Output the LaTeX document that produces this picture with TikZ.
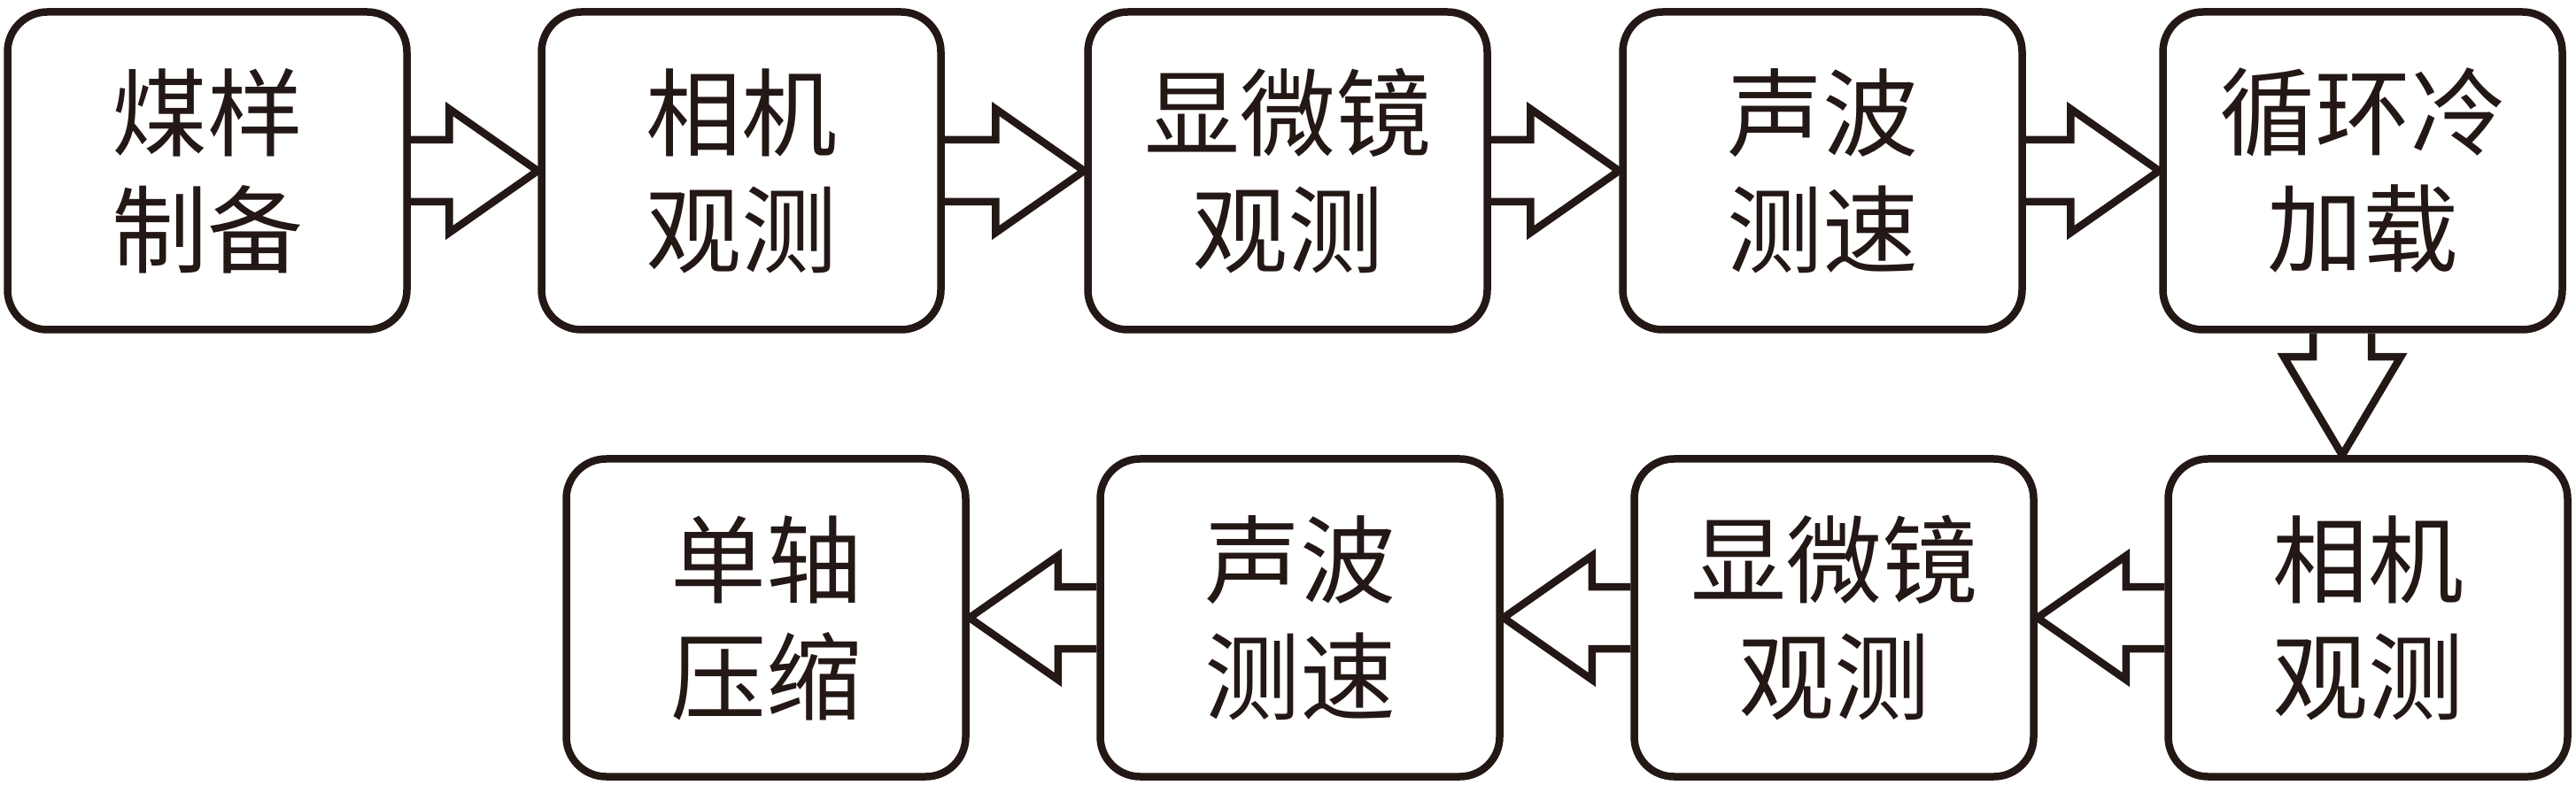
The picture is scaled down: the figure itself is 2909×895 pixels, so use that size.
\documentclass[tikz,border=0pt]{standalone}
\usepackage{fontspec}
\newfontfamily\cjk{Noto Sans CJK SC}
\usetikzlibrary{calc}
\definecolor{ink}{HTML}{231815}
\newcommand\harr[3]{%
\draw[blockarrow] ($(#1)+(0,35)$) -- ($(#2)+(-100*#3,35)$) -- ($(#2)+(-100*#3,70)$) -- (#2) -- ($(#2)+(-100*#3,-70)$) -- ($(#2)+(-100*#3,-35)$) -- ($(#1)+(0,-35)$);}
\begin{document}
\begin{tikzpicture}[x=1pt,y=1pt,
 stepbox/.style={draw=ink, line width=8.5pt, rounded corners=45pt, minimum width=451pt, minimum height=359pt, inner sep=0pt, align=center, font=\cjk\fontsize{108}{132}\selectfont, text=ink},
 blockarrow/.style={draw=ink, line width=8.5pt, line join=miter}]
\useasboundingbox (0,0) rectangle (2909,895);
\node[stepbox] (n1) at (234,702) {煤样\\制备};
\node[stepbox] (n2) at (837,702) {相机\\观测};
\node[stepbox] (n3) at (1454,702) {显微镜\\观测};
\node[stepbox] (n4) at (2058,702) {声波\\测速};
\node[stepbox] (n5) at (2668,702) {循环冷\\加载};
\node[stepbox] (m1) at (865,197) {单轴\\压缩};
\node[stepbox] (m2) at (1468,197) {声波\\测速};
\node[stepbox] (m3) at (2071,197) {显微镜\\观测};
\node[stepbox] (m4) at (2674,197) {相机\\观测};
\harr{n1.east}{n2.west}{1}
\harr{n2.east}{n3.west}{1}
\harr{n3.east}{n4.west}{1}
\harr{n4.east}{n5.west}{1}
\harr{m4.west}{m3.east}{-1}
\harr{m3.west}{m2.east}{-1}
\harr{m2.west}{m1.east}{-1}
\coordinate (d0) at ($(n5.south)+(-23,0)$);
\coordinate (d1) at (d0 |- m4.north);
\draw[blockarrow] ($(d0)+(-33,0)$) -- ($(d1)+(-33,111)$) -- ($(d1)+(-66,111)$) -- (d1) -- ($(d1)+(66,111)$) -- ($(d1)+(33,111)$) -- ($(d0)+(33,0)$);
\end{tikzpicture}
\end{document}
